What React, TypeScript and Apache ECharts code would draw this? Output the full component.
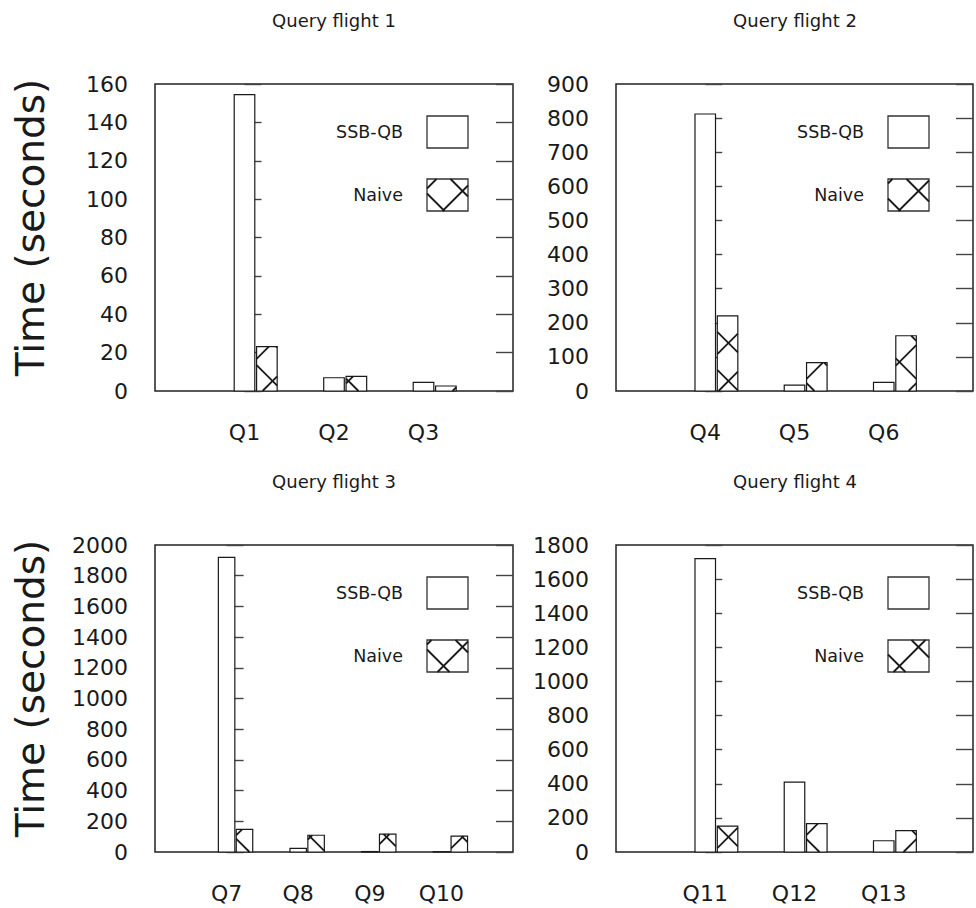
import React, { useEffect, useRef } from 'react';
import * as echarts from 'echarts';

// ---------- data ----------
const flight1Categories = ['Q1', 'Q2', 'Q3'];
const flight1SSB = [154.5, 6.9, 4.5];
const flight1Naive = [23.1, 7.6, 2.6];

const flight2Categories = ['Q4', 'Q5', 'Q6'];
const flight2SSB = [812, 17, 25];
const flight2Naive = [220, 83, 162];

const flight3Categories = ['Q7', 'Q8', 'Q9', 'Q10'];
const flight3SSB = [1920, 24, 3, 2];
const flight3Naive = [148, 109, 117, 104];

const flight4Categories = ['Q11', 'Q12', 'Q13'];
const flight4SSB = [1720, 410, 66];
const flight4Naive = [152, 166, 125];

const panelTitles = ['Query flight 1', 'Query flight 2', 'Query flight 3', 'Query flight 4'];
const yMaxes = [160, 900, 2000, 1800];
const yIntervals = [20, 100, 200, 200];
const seriesNames = ['SSB-QB', 'Naive'];
const yAxisTitle = 'Time (seconds)';

// ---------- layout ----------
const FONT = 'DejaVu Sans';
const PANEL_W = 358;
const PANEL_H = 307;
const PANEL_POS = [
  { left: 155, top: 84 },
  { left: 616, top: 84 },
  { left: 155, top: 545 },
  { left: 616, top: 545 },
];
const BAR_W = 0.23; // in x-axis units
const NAIVE_OFFSET = 0.25;
const HATCH_P = 38;
const HATCH_C1 = 7.5;
const HATCH_C2 = 5.5;
const INK = '#1a1a1a';
const TICK_FONT = 22;

const panels = [
  { cats: flight1Categories, ssb: flight1SSB, naive: flight1Naive },
  { cats: flight2Categories, ssb: flight2SSB, naive: flight2Naive },
  { cats: flight3Categories, ssb: flight3SSB, naive: flight3Naive },
  { cats: flight4Categories, ssb: flight4SSB, naive: flight4Naive },
];

function hatchSegments(x0: number, y0: number, x1: number, y1: number): number[][] {
  const segs: number[][] = [];
  const P = HATCH_P;
  // lines x - y = c  ("\")
  let lo = x0 - y1;
  let hi = x1 - y0;
  let c = Math.ceil((lo - HATCH_C2) / P) * P + HATCH_C2;
  for (; c <= hi; c += P) {
    const xa = Math.max(x0, y0 + c);
    const xb = Math.min(x1, y1 + c);
    if (xb > xa + 0.3) segs.push([xa, xa - c, xb, xb - c]);
  }
  // lines x + y = c  ("/")
  lo = x0 + y0;
  hi = x1 + y1;
  c = Math.ceil((lo - HATCH_C1) / P) * P + HATCH_C1;
  for (; c <= hi; c += P) {
    const xa = Math.max(x0, c - y1);
    const xb = Math.min(x1, c - y0);
    if (xb > xa + 0.3) segs.push([xa, c - xa, xb, c - xb]);
  }
  return segs;
}

function makeRenderItem(hatched: boolean) {
  return (params: any, api: any) => {
    const x = api.value(0);
    const v = api.value(1);
    const top = api.coord([x, v]);
    const base = api.coord([x, 0]);
    const w = api.size([BAR_W, 0])[0];
    const x0 = top[0] - w / 2;
    const x1 = top[0] + w / 2;
    const y0 = top[1];
    const y1 = base[1];
    const children: any[] = [
      {
        type: 'rect',
        shape: { x: x0, y: y0, width: w, height: Math.max(0, y1 - y0) },
        style: { fill: '#fff', stroke: INK, lineWidth: 1.2 },
      },
    ];
    if (hatched) {
      hatchSegments(x0, y0, x1, y1).forEach((s) => {
        children.push({
          type: 'line',
          shape: { x1: s[0], y1: s[1], x2: s[2], y2: s[3] },
          style: { stroke: INK, lineWidth: 1.8 },
        });
      });
    }
    return { type: 'group', children };
  };
}

export default function App() {
  const ref = useRef<HTMLDivElement>(null);

  useEffect(() => {
    if (!ref.current) return;
    const chart = echarts.init(ref.current, undefined, { renderer: 'svg' });

    const grid: any[] = [];
    const xAxis: any[] = [];
    const yAxis: any[] = [];
    const series: any[] = [];
    const graphic: any[] = [];

    panels.forEach((p, i) => {
      const pos = PANEL_POS[i];
      grid.push({
        left: pos.left,
        top: pos.top,
        width: PANEL_W,
        height: PANEL_H,
        show: true,
        borderColor: '#222',
        borderWidth: 1.5,
        backgroundColor: 'transparent',
      });
      xAxis.push({
        type: 'value',
        gridIndex: i,
        min: -1,
        max: p.cats.length,
        interval: 1,
        axisLine: { show: false },
        axisTick: { show: false },
        splitLine: { show: false },
        axisLabel: {
          margin: 30,
          fontSize: TICK_FONT,
          fontFamily: FONT,
          color: INK,
          showMinLabel: true,
          showMaxLabel: true,
          formatter: (val: number) => {
            const k = Math.round(val);
            if (Math.abs(val - k) < 1e-6 && k >= 0 && k < p.cats.length) return p.cats[k];
            return '';
          },
        },
      });
      const yCommon = {
        type: 'value',
        gridIndex: i,
        min: 0,
        max: yMaxes[i],
        interval: yIntervals[i],
        axisLine: { show: false },
        splitLine: { show: false },
        axisTick: { show: true, inside: true, length: 17, lineStyle: { color: '#444', width: 1.4 } },
      };
      yAxis.push({
        ...yCommon,
        position: 'left',
        axisLabel: {
          margin: 27,
          fontSize: TICK_FONT,
          fontFamily: FONT,
          color: INK,
          formatter: (val: number) => String(val),
        },
      });
      yAxis.push({
        ...yCommon,
        position: 'right',
        axisLabel: { show: false },
      });

      series.push({
        type: 'custom',
        name: seriesNames[0],
        xAxisIndex: i,
        yAxisIndex: 2 * i,
        encode: { x: 0, y: 1 },
        clip: false,
        data: p.ssb.map((v, k) => [k, v]),
        renderItem: makeRenderItem(false),
      });
      series.push({
        type: 'custom',
        name: seriesNames[1],
        xAxisIndex: i,
        yAxisIndex: 2 * i,
        encode: { x: 0, y: 1 },
        clip: false,
        data: p.naive.map((v, k) => [k + NAIVE_OFFSET, v]),
        renderItem: makeRenderItem(true),
      });

      // title
      graphic.push({
        type: 'text',
        x: pos.left + PANEL_W / 2,
        y: pos.top - 64,
        style: {
          text: panelTitles[i],
          fontFamily: FONT,
          fontSize: 18,
          fill: INK,
          textAlign: 'center',
          textVerticalAlign: 'middle',
        },
      });

      // y axis title (left column only)
      if (i % 2 === 0) {
        graphic.push({
          type: 'text',
          x: 30,
          y: pos.top + PANEL_H / 2 - 10,
          rotation: Math.PI / 2,
          style: {
            text: yAxisTitle,
            fontFamily: FONT,
            fontSize: 39,
            fill: INK,
            textAlign: 'center',
            textVerticalAlign: 'middle',
          },
        });
      }

      // legend
      const right = pos.left + PANEL_W;
      seriesNames.forEach((name, j) => {
        const bx = right - 86;
        const by = pos.top + 32 + j * 63;
        const bw = 41;
        const bh = 32;
        graphic.push({
          type: 'text',
          x: right - 110,
          y: by + bh / 2,
          style: {
            text: name,
            fontFamily: FONT,
            fontSize: 17.5,
            fill: INK,
            textAlign: 'right',
            textVerticalAlign: 'middle',
          },
        });
        graphic.push({
          type: 'rect',
          shape: { x: bx, y: by, width: bw, height: bh },
          style: { fill: '#fff', stroke: '#333', lineWidth: 1.3 },
        });
        if (j === 1) {
          hatchSegments(bx, by, bx + bw, by + bh).forEach((s) => {
            graphic.push({
              type: 'line',
              shape: { x1: s[0], y1: s[1], x2: s[2], y2: s[3] },
              style: { stroke: INK, lineWidth: 1.8 },
            });
          });
        }
      });
    });

    chart.setOption({
      animation: false,
      backgroundColor: '#fff',
      grid,
      xAxis,
      yAxis,
      series,
      graphic,
    });

    return () => chart.dispose();
  }, []);

  return (
    <div
      ref={ref}
      style={{ position: 'fixed', left: 0, top: 0, width: 976, height: 908, background: '#fff' }}
    />
  );
}
